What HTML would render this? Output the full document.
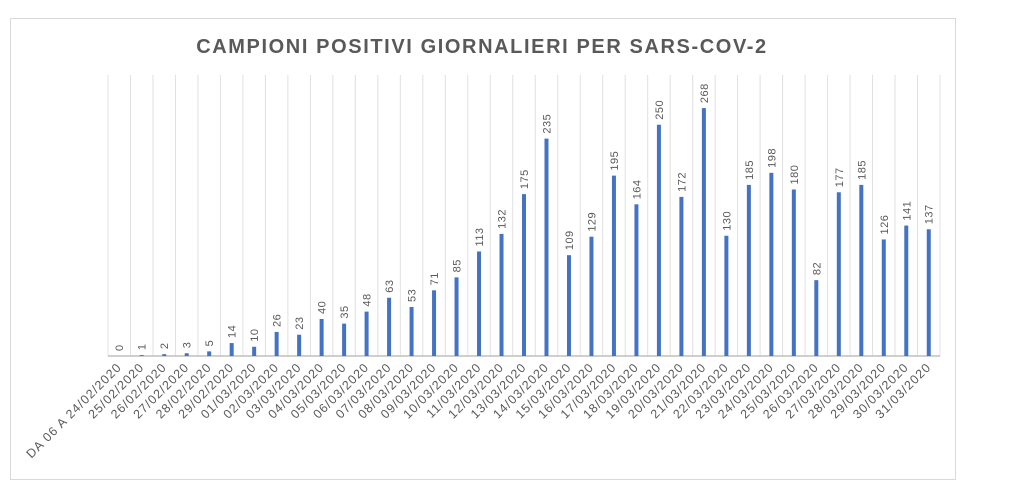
<!DOCTYPE html>
<html><head><meta charset="utf-8"><style>
body{margin:0;background:#fff;width:1024px;height:488px;overflow:hidden}
svg{font-family:"Liberation Sans",sans-serif}
</style></head><body>
<svg id="chart" width="1024" height="488">
<rect x="10.5" y="18.5" width="945" height="461" fill="#fff" stroke="#d9d9d9"/>
<text x="482" y="53" text-anchor="middle" font-size="20" font-weight="bold" fill="#595959" letter-spacing="1.6">CAMPIONI POSITIVI GIORNALIERI PER SARS-COV-2</text>
<g id="plot"></g>
</svg>
<script>
const categories=["DA 06 A 24/02/2020","25/02/2020","26/02/2020","27/02/2020","28/02/2020","29/02/2020","01/03/2020","02/03/2020","03/03/2020","04/03/2020","05/03/2020","06/03/2020","07/03/2020","08/03/2020","09/03/2020","10/03/2020","11/03/2020","12/03/2020","13/03/2020","14/03/2020","15/03/2020","16/03/2020","17/03/2020","18/03/2020","19/03/2020","20/03/2020","21/03/2020","22/03/2020","23/03/2020","24/03/2020","25/03/2020","26/03/2020","27/03/2020","28/03/2020","29/03/2020","30/03/2020","31/03/2020"];
const values=[0,1,2,3,5,14,10,26,23,40,35,48,63,53,71,85,113,132,175,235,109,129,195,164,250,172,268,130,185,198,180,82,177,185,126,141,137];
const NS="http://www.w3.org/2000/svg";
const g=document.getElementById('plot');
const x0=108,x1=940,yBase=356,yTop=75;
const step=(x1-x0)/categories.length;
const xc=i=>x0+step*(i+0.5);
const y=v=>yBase-v*0.925;
function mk(t,a){const e=document.createElementNS(NS,t);for(const k in a)e.setAttribute(k,a[k]);g.appendChild(e);return e;}
for(let i=0;i<=categories.length;i++){
 const l=mk('line',{x1:x0+step*i,x2:x0+step*i,y1:yTop,y2:yBase,stroke:'#e0e0e0','stroke-width':1});
 
 
}
const ax=mk('line',{x1:x0,x2:x1,y1:yBase,y2:yBase,stroke:'#bfbfbf','stroke-width':1.5});


values.forEach((v,i)=>{
 const h=yBase-y(v);
 const b=mk('rect',{x:xc(i)-2,y:y(v),width:4,height:h,fill:'#4472c4'});
 
 
 const tx=xc(i)+4,ty=y(v)-5;
 const t=mk('text',{x:tx,y:ty,transform:`rotate(-90 ${tx} ${ty})`,'font-size':11,fill:'#595959','letter-spacing':0.5});
 t.textContent=v;
 
 
});
categories.forEach((c,i)=>{
 const tx=xc(i)+3,ty=yBase+12;
 const t=mk('text',{x:tx,y:ty,transform:`rotate(-45 ${tx} ${ty})`,'text-anchor':'end','font-size':12.5,fill:'#595959','letter-spacing':1});
 t.textContent=c;
 
 
});
</script>
</body></html>
